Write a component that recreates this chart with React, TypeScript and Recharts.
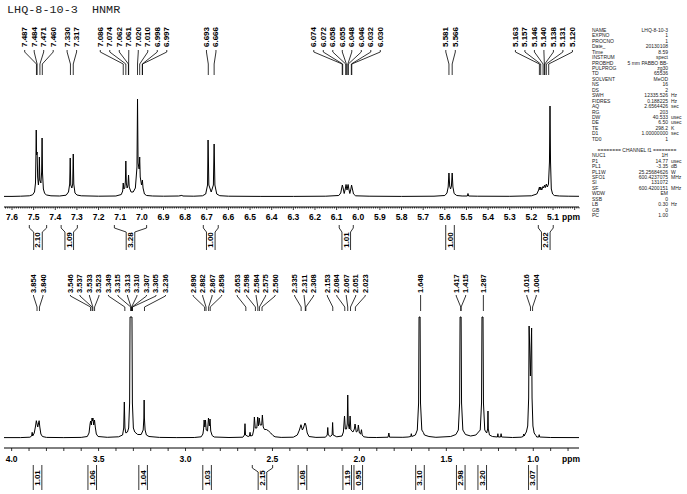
import { ComposedChart, Line, Scatter, XAxis, YAxis } from 'recharts';

const PLOT_LEFT = 4;
const PLOT_RIGHT = 579;
const PLOT_W = PLOT_RIGHT - PLOT_LEFT;
const FONT = '"Liberation Sans", Arial, sans-serif';

// ---- upper panel: 7.6 - 5.1 ppm ----
const topDomain = [4.98, 7.637];
const topTrace: [number, number][] = [
  [7.637, 0.6], [7.6, 0.6], [7.56, 0.8], [7.52, 1.2], [7.505, 2.2], [7.496, 5], [7.4915, 14], [7.4895, 40], [7.488, 67],
  [7.4865, 42], [7.484, 45], [7.4815, 20], [7.478, 12], [7.4755, 18], [7.4735, 40], [7.4715, 17], [7.4665, 14],
  [7.463, 25], [7.461, 59], [7.459, 24], [7.455, 8], [7.449, 3.5], [7.44, 2], [7.42, 1.2], [7.38, 1], [7.35, 1.8],
  [7.339, 5], [7.3335, 13], [7.331, 39], [7.3285, 12], [7.3235, 9], [7.3195, 13], [7.317, 43], [7.3145, 13], [7.309, 4],
  [7.3, 2], [7.28, 1.2], [7.2, 0.8], [7.12, 1], [7.095, 2.5], [7.0885, 6], [7.086, 14], [7.0835, 8], [7.079, 9],
  [7.076, 16], [7.074, 36], [7.0718, 14], [7.068, 9], [7.064, 12], [7.0615, 22], [7.0585, 10], [7.05, 5], [7.04, 5],
  [7.03, 9], [7.0225, 30], [7.02, 98], [7.0175, 34], [7.0125, 28], [7.01, 40], [7.0075, 20], [7.0015, 12],
  [6.9975, 17], [6.9945, 9], [6.988, 3], [6.978, 1.5], [6.95, 1], [6.9, 0.8], [6.83, 1], [6.815, 1.6], [6.81, 1],
  [6.76, 0.8], [6.72, 1.2], [6.705, 3], [6.6965, 12], [6.694, 57], [6.6905, 12], [6.6795, 5], [6.6695, 12],
  [6.666, 53], [6.6625, 12], [6.654, 3], [6.64, 1.3], [6.6, 0.8], [6.45, 0.6], [6.3, 0.6], [6.15, 0.8], [6.09, 1.5],
  [6.081, 4], [6.0765, 9], [6.0735, 12], [6.07, 9], [6.065, 3.5], [6.06, 8], [6.0565, 12.5], [6.052, 7], [6.047, 12.5],
  [6.0435, 8], [6.039, 3.5], [6.034, 8], [6.031, 12], [6.027, 8], [6.022, 3], [6.012, 1.2], [5.95, 0.8], [5.8, 0.6],
  [5.65, 0.8], [5.6, 1.5], [5.59, 4], [5.5845, 10], [5.581, 24], [5.5775, 11], [5.5735, 8], [5.5695, 11], [5.566, 24],
  [5.5625, 10], [5.557, 3.5], [5.545, 1.5], [5.52, 1], [5.496, 1], [5.493, 3.5], [5.49, 1], [5.45, 0.8], [5.3, 0.7],
  [5.2, 1.2], [5.175, 3], [5.1665, 7], [5.163, 10], [5.16, 7], [5.157, 10], [5.152, 7], [5.1465, 10.5], [5.143, 9],
  [5.139, 12], [5.135, 9.5], [5.131, 13], [5.126, 10], [5.121, 13], [5.1165, 35], [5.114, 91], [5.1115, 35],
  [5.108, 8], [5.102, 3], [5.094, 1.5], [5.07, 1], [5.03, 0.8], [4.98, 0.7],
];
const topPeaks = [
  7.487, 7.484, 7.471, 7.46, 7.33, 7.317, 7.086, 7.074, 7.062, 7.061, 7.02, 7.01, 6.998, 6.997, 6.693, 6.666,
  6.074, 6.072, 6.058, 6.055, 6.048, 6.046, 6.032, 6.03, 5.581, 5.566, 5.163, 5.157, 5.146, 5.14, 5.138, 5.131, 5.12,
];
const topIntegralFrom = [7.52, 7.373, 7.127, 6.716, 6.088, 5.602, 5.168];
const topIntegralTo = [7.44, 7.298, 6.978, 6.647, 6.023, 5.55, 5.099];
const topIntegralValues = ['2.10', '1.09', '3.28', '1.00', '1.01', '1.00', '2.02'];
const topTickLabels = [7.6, 7.5, 7.4, 7.3, 7.2, 7.1, 7.0, 6.9, 6.8, 6.7, 6.6, 6.5, 6.4, 6.3, 6.2, 6.1, 6.0, 5.9, 5.8, 5.7, 5.6, 5.5, 5.4, 5.3, 5.2, 5.1];

// ---- lower panel: 4.0 - 0.8 ppm ----
const bottomDomain = [0.737, 4.044];
const bottomTrace: [number, number][] = [
  [4.044, 0.4], [3.95, 0.4], [3.895, 0.8], [3.885, 2], [3.882, 5.7], [3.879, 2], [3.87, 5], [3.8625, 12], [3.858, 17.3],
  [3.85, 11], [3.842, 17.3], [3.838, 11], [3.832, 4], [3.823, 1.5], [3.8, 0.6], [3.7, 0.4], [3.6, 0.6], [3.565, 1.5],
  [3.555, 5], [3.549, 14], [3.546, 17], [3.5415, 13], [3.5375, 20], [3.535, 17], [3.5325, 20], [3.528, 13],
  [3.5235, 18], [3.519, 11], [3.513, 4], [3.503, 1.5], [3.45, 0.7], [3.385, 1.2], [3.362, 3], [3.3555, 10],
  [3.352, 36], [3.3485, 10], [3.343, 5], [3.334, 6], [3.327, 10], [3.3215, 35], [3.319, 121], [3.308, 121],
  [3.3055, 35], [3.3, 10], [3.292, 6], [3.275, 3.5], [3.255, 3.5], [3.2435, 8], [3.2395, 20], [3.238, 38], [3.2365, 20],
  [3.2325, 8], [3.225, 3], [3.21, 1.5], [3.15, 0.6], [3.05, 0.4], [2.95, 0.5], [2.91, 1.2], [2.9, 4], [2.896, 9],
  [2.893, 18], [2.889, 11], [2.885, 18], [2.881, 8], [2.8735, 7], [2.868, 20], [2.863, 12], [2.859, 19], [2.855, 7],
  [2.847, 2.5], [2.835, 1], [2.75, 0.5], [2.67, 0.8], [2.661, 3], [2.658, 14.3], [2.655, 3], [2.64, 1.5],
  [2.632, 2], [2.629, 5.7], [2.626, 2], [2.615, 2.5], [2.608, 8], [2.604, 21], [2.599, 10], [2.59, 10], [2.585, 21],
  [2.581, 12], [2.576, 20], [2.571, 13], [2.562, 13], [2.558, 23], [2.553, 11], [2.546, 8.5], [2.535, 8.5],
  [2.522, 7], [2.51, 5], [2.497, 2.5], [2.485, 1.2], [2.45, 0.6], [2.38, 0.8], [2.357, 3], [2.345, 8], [2.336, 13.3],
  [2.328, 8], [2.322, 10], [2.313, 15], [2.308, 13], [2.3, 5], [2.29, 1.5], [2.25, 0.6], [2.195, 0.8], [2.185, 3],
  [2.182, 10.5], [2.179, 3], [2.168, 1.5], [2.157, 3], [2.154, 15.5], [2.151, 3], [2.13, 1.2], [2.1, 2], [2.092, 6],
  [2.0855, 22], [2.081, 9], [2.074, 9], [2.07, 14], [2.067, 43], [2.064, 14], [2.058, 9], [2.0535, 22], [2.049, 8],
  [2.037, 6], [2.029, 9], [2.025, 14], [2.018, 6], [2.01, 7], [2.006, 13], [2.0, 5], [1.993, 4], [1.988, 8.3],
  [1.984, 3], [1.975, 1.2], [1.95, 0.6], [1.9, 0.5], [1.835, 0.8], [1.8305, 5], [1.8265, 0.8], [1.75, 0.7],
  [1.72, 1], [1.7045, 1.5], [1.7015, 4.3], [1.6985, 1.5], [1.678, 3], [1.667, 8], [1.6595, 35], [1.657, 121],
  [1.651, 121], [1.6485, 35], [1.641, 8], [1.632, 5.5], [1.626, 3], [1.6, 1.5], [1.56, 0.7], [1.475, 1.5],
  [1.445, 3.5], [1.431, 8], [1.4235, 35], [1.421, 121], [1.415, 121], [1.4125, 35], [1.405, 8], [1.39, 3.5],
  [1.36, 2], [1.33, 3], [1.305, 8], [1.2975, 35], [1.295, 121], [1.289, 121], [1.2865, 35], [1.279, 8], [1.268, 5],
  [1.2625, 9], [1.2605, 27], [1.2585, 9], [1.252, 3], [1.235, 1.5], [1.206, 1], [1.2035, 4.3], [1.201, 1],
  [1.188, 1], [1.185, 4.3], [1.182, 1], [1.12, 0.5], [1.07, 0.8], [1.058, 1.5], [1.055, 4], [1.0515, 2], [1.047, 4],
  [1.04, 6], [1.032, 12], [1.0265, 40], [1.024, 112], [1.0165, 62], [1.0095, 110], [1.007, 40], [1.002, 12],
  [0.995, 5], [0.985, 2.5], [0.98, 1], [0.9685, 1], [0.966, 3.3], [0.9635, 1], [0.9, 0.5], [0.737, 0.4],
];
const bottomPeaks = [
  3.854, 3.84, 3.546, 3.537, 3.533, 3.523, 3.349, 3.315, 3.313, 3.31, 3.307, 3.305, 3.236, 2.89, 2.882, 2.867, 2.858,
  2.653, 2.598, 2.584, 2.575, 2.56, 2.335, 2.311, 2.308, 2.153, 2.084, 2.067, 2.051, 2.023, 1.648, 1.417, 1.415, 1.287,
  1.016, 1.004,
];
const bottomIntegralFrom = [3.875, 3.562, 3.271, 2.903, 2.616, 2.355, 2.096, 2.035, 1.68, 1.445, 1.322, 1.025];
const bottomIntegralTo = [3.827, 3.511, 3.217, 2.849, 2.499, 2.3, 2.044, 1.978, 1.623, 1.389, 1.265, 0.98];
const bottomIntegralValues = ['1.01', '1.06', '1.04', '1.03', '2.15', '1.08', '1.19', '0.95', '3.10', '2.98', '3.20', '3.07'];
const bottomTickLabels = [4.0, 3.5, 3.0, 2.5, 2.0, 1.5, 1.0];

// ---- acquisition parameters ----
const paramNames = ['NAME', 'EXPNO', 'PROCNO', 'Date_', 'Time', 'INSTRUM', 'PROBHD', 'PULPROG', 'TD', 'SOLVENT', 'NS', 'DS', 'SWH', 'FIDRES', 'AQ', 'RG', 'DW', 'DE', 'TE', 'D1', 'TD0', '', '', 'NUC1', 'P1', 'PL1', 'PL1W', 'SFO1', 'SI', 'SF', 'WDW', 'SSB', 'LB', 'GB', 'PC'];
const paramValues = ['LHQ-8-10-3', '1', '1', '20130108', '8.59', 'spect', '5 mm PABBO BB-', 'zg30', '65536', 'MeOD', '16', '2', '12335.526', '0.188225', '2.6564426', '203', '40.533', '6.50', '298.2', '1.00000000', '1', '', '', '1H', '14.77', '-3.35', '25.25684626', '600.4237075', '131072', '600.4200151', 'EM', '0', '0.30', '0', '1.00'];
const paramUnits = ['', '', '', '', '', '', '', '', '', '', '', '', 'Hz', 'Hz', 'sec', '', 'usec', 'usec', 'K', 'sec', '', '', '', '', 'usec', 'dB', 'W', 'MHz', '', 'MHz', '', '', 'Hz', '', ''];

function labelOffsets(peaks: number[], domain: number[], gap: number) {
  const ppx = PLOT_W / (domain[1] - domain[0]);
  const xs = peaks.map((p) => PLOT_LEFT + (domain[1] - p) * ppx);
  const groups = xs.map((x, i) => ({ first: i, n: 1, sum: x }));
  let changed = true;
  while (changed) {
    changed = false;
    for (let i = 0; i < groups.length - 1; i++) {
      const a = groups[i];
      const b = groups[i + 1];
      const aEnd = a.sum / a.n + ((a.n - 1) * gap) / 2;
      const bStart = b.sum / b.n - ((b.n - 1) * gap) / 2;
      if (bStart - aEnd < gap) {
        groups.splice(i, 2, { first: a.first, n: a.n + b.n, sum: a.sum + b.sum });
        changed = true;
        break;
      }
    }
  }
  const dx: number[] = [];
  groups.forEach((g) => {
    const c = g.sum / g.n;
    for (let k = 0; k < g.n; k++) dx[g.first + k] = c + (k - (g.n - 1) / 2) * gap - xs[g.first + k];
  });
  return dx;
}

const makeLabelShape = (g: { a: number; b: number; c: number; d: number; size: number }) => (props: any) => {
  const { cx, cy, payload } = props;
  const lx = cx + payload.dx;
  return (
    <g>
      <text x={lx} y={cy} transform={`rotate(-90 ${lx} ${cy})`} dominantBaseline="central" fontSize={g.size} fontFamily={FONT} fontWeight="bold" fill="#000">
        {payload.text}
      </text>
      <polyline points={`${lx},${cy + g.a} ${lx},${cy + g.b} ${cx},${cy + g.c} ${cx},${cy + g.d}`} fill="none" stroke="#000" strokeWidth={0.8} />
    </g>
  );
};

const makeIntegralShape = (g: { top: number; join: number; bottom: number; mid: number }, ppx: number) => (props: any) => {
  const { cx, cy, payload } = props;
  const half = ((payload.from - payload.to) * ppx) / 2;
  const bw = 4.3;
  const top = cy + g.top;
  const join = cy + g.join;
  const bottom = cy + g.bottom;
  const wide = half > bw + 1.5;
  const left = wide
    ? `${cx - half},${top} ${cx - half},${top + 3} ${cx - bw},${join} ${cx - bw},${bottom}`
    : `${cx - bw},${top} ${cx - bw},${bottom}`;
  const right = wide
    ? `${cx + half},${top} ${cx + half},${top + 3} ${cx + bw},${join} ${cx + bw},${bottom}`
    : `${cx + bw},${top} ${cx + bw},${bottom}`;
  const ty = cy + g.mid;
  return (
    <g>
      <polyline points={left} fill="none" stroke="#000" strokeWidth={0.8} />
      <polyline points={right} fill="none" stroke="#000" strokeWidth={0.8} />
      <text x={cx} y={ty} transform={`rotate(-90 ${cx} ${ty})`} textAnchor="middle" dominantBaseline="central" fontSize={8} fontFamily={FONT} fontWeight="bold" fill="#000">
        {payload.text}
      </text>
    </g>
  );
};

const makeTick = (labels: number[], minorStep: boolean, labelDy: number) => (props: any) => {
  const { x, y, payload } = props;
  const v = payload.value;
  const major = Math.abs(v * 10 - Math.round(v * 10)) < 1e-6;
  const lab = labels.find((l) => Math.abs(l - v) < 1e-6);
  return (
    <g>
      <line x1={x} x2={x} y1={y} y2={y + (major || !minorStep ? 3 : 1.5)} stroke="#000" strokeWidth={0.8} />
      {lab !== undefined && (
        <text x={x} y={y + labelDy} textAnchor="middle" fontSize={8.5} fontFamily={FONT} fontWeight="bold" fill="#000">
          {lab.toFixed(1)}
        </text>
      )}
    </g>
  );
};

interface PanelProps {
  height: number;
  bottomMargin: number;
  domain: number[];
  yDomain: number[];
  trace: [number, number][];
  peaks: number[];
  labelV: number;
  labelGeo: { a: number; b: number; c: number; d: number; size: number };
  intFrom: number[];
  intTo: number[];
  intValues: string[];
  intGeo: { top: number; join: number; bottom: number; mid: number };
  ticks: number[];
  tickLabels: number[];
  minorTicks: boolean;
  labelDy: number;
}

function Panel(p: PanelProps) {
  const ppx = PLOT_W / (p.domain[1] - p.domain[0]);
  const line = p.trace.map(([ppm, v]) => ({ ppm, v }));
  const dx = labelOffsets(p.peaks, p.domain, 9.5);
  const labels = p.peaks.map((ppm, i) => ({ ppm, v: p.labelV, dx: dx[i], text: ppm.toFixed(3) }));
  const integrals = p.intValues.map((text, i) => ({
    ppm: (p.intFrom[i] + p.intTo[i]) / 2,
    v: p.yDomain[0],
    from: p.intFrom[i],
    to: p.intTo[i],
    text,
  }));
  return (
    <ComposedChart width={687} height={p.height} margin={{ top: 20, right: 687 - PLOT_RIGHT, left: PLOT_LEFT, bottom: p.bottomMargin }}>
      <XAxis
        type="number"
        dataKey="ppm"
        domain={p.domain}
        reversed
        ticks={p.ticks}
        interval={0}
        height={20}
        tickSize={0}
        tickMargin={0}
        tickLine={false}
        axisLine={{ stroke: '#000', strokeWidth: 1 }}
        tick={makeTick(p.tickLabels, p.minorTicks, p.labelDy)}
      />
      <YAxis type="number" dataKey="v" domain={p.yDomain} hide width={0} />
      <Line data={line} dataKey="v" type="linear" stroke="#000" strokeWidth={1} dot={false} isAnimationActive={false} />
      <Scatter data={labels} dataKey="v" shape={makeLabelShape(p.labelGeo)} isAnimationActive={false} />
      <Scatter data={integrals} dataKey="v" shape={makeIntegralShape(p.intGeo, ppx)} isAnimationActive={false} />
    </ComposedChart>
  );
}

const topTicks: number[] = [];
for (let i = 498; i <= 763; i++) topTicks.push(i / 100);
const bottomTicks: number[] = [];
for (let i = 8; i <= 40; i++) bottomTicks.push(i / 10);

export default function App() {
  return (
    <div style={{ position: 'absolute', left: 0, top: 0, width: 687, height: 494, background: '#fff', overflow: 'hidden' }}>
      <div style={{ position: 'absolute', left: 0, top: 0 }}>
        <Panel
          height={252}
          bottomMargin={25}
          domain={topDomain}
          yDomain={[-10, 177]}
          trace={topTrace}
          peaks={topPeaks}
          labelV={150}
          labelGeo={{ a: 3, b: 5, c: 17, d: 28, size: 8 }}
          intFrom={topIntegralFrom}
          intTo={topIntegralTo}
          intValues={topIntegralValues}
          intGeo={{ top: 18, join: 25, bottom: 43, mid: 33 }}
          ticks={topTicks}
          tickLabels={topTickLabels}
          minorTicks
          labelDy={13}
        />
      </div>
      <div style={{ position: 'absolute', left: 0, top: 250 }}>
        <Panel
          height={244}
          bottomMargin={26}
          domain={bottomDomain}
          yDomain={[-10, 168]}
          trace={bottomTrace}
          peaks={bottomPeaks}
          labelV={145}
          labelGeo={{ a: 2, b: 3, c: 14, d: 18, size: 7.5 }}
          intFrom={bottomIntegralFrom}
          intTo={bottomIntegralTo}
          intValues={bottomIntegralValues}
          intGeo={{ top: 17, join: 24, bottom: 42, mid: 30 }}
          ticks={bottomTicks}
          tickLabels={bottomTickLabels}
          minorTicks={false}
          labelDy={14}
        />
      </div>
      <svg width={687} height={494} style={{ position: 'absolute', left: 0, top: 0, pointerEvents: 'none' }}>
        <text x={7} y={12.7} fontSize={11.8} fontFamily='"Liberation Mono", monospace' fill="#222" xmlSpace="preserve">
          LHQ-8-10-3  HNMR
        </text>
        <text x={571} y={220} textAnchor="middle" fontSize={8.5} fontFamily={FONT} fontWeight="bold" fill="#000">ppm</text>
        <text x={571} y={461.5} textAnchor="middle" fontSize={8.5} fontFamily={FONT} fontWeight="bold" fill="#000">ppm</text>
        {paramNames.map((name, i) => {
          const y = 31.8 + i * 5.45;
          if (i === 22) {
            return (
              <text key={i} x={637} y={y} textAnchor="middle" fontSize={5} fontFamily={FONT} fill="#222">
                ======== CHANNEL f1 ========
              </text>
            );
          }
          return (
            <g key={i} fontSize={5} fontFamily={FONT} fill="#222">
              <text x={592} y={y}>{name}</text>
              <text x={668} y={y} textAnchor="end">{paramValues[i]}</text>
              <text x={671} y={y}>{paramUnits[i]}</text>
            </g>
          );
        })}
      </svg>
    </div>
  );
}
